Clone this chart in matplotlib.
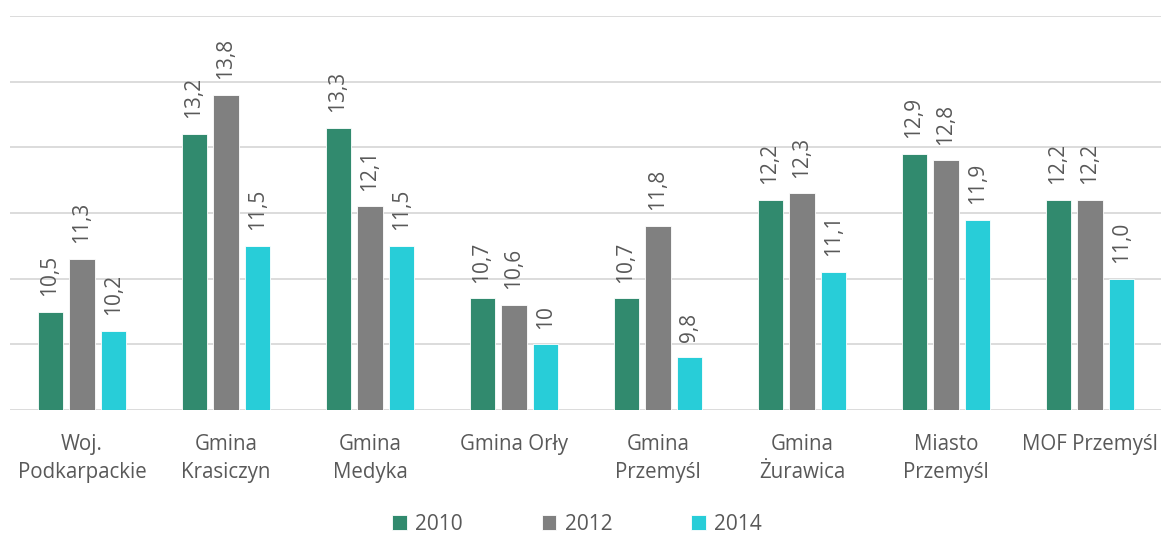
import matplotlib
matplotlib.use("Agg")
import matplotlib.pyplot as plt
import numpy as np

categories = ["Woj.\nPodkarpackie", "Gmina\nKrasiczyn", "Gmina\nMedyka", "Gmina Orły",
              "Gmina\nPrzemyśl", "Gmina\nŻurawica", "Miasto\nPrzemyśl", "MOF Przemyśl"]
years = ["2010", "2012", "2014"]
v2010 = [10.5, 13.2, 13.3, 10.7, 10.7, 12.2, 12.9, 12.2]
v2012 = [11.3, 13.8, 12.1, 10.6, 11.8, 12.3, 12.8, 12.2]
v2014 = [10.2, 11.5, 11.5, 10.0, 9.8, 11.1, 11.9, 11.0]
labels2010 = ["10,5", "13,2", "13,3", "10,7", "10,7", "12,2", "12,9", "12,2"]
labels2012 = ["11,3", "13,8", "12,1", "10,6", "11,8", "12,3", "12,8", "12,2"]
labels2014 = ["10,2", "11,5", "11,5", "10", "9,8", "11,1", "11,9", "11,0"]

colors = ["#318A6E", "#808080", "#28CDD8"]
plt.rcParams['font.family'] = ['Open Sans', 'DejaVu Sans']

fig = plt.figure(figsize=(11.61, 5.33), dpi=100)
ax = fig.add_axes([10/1161, 1-410/533, 1152/1161, 394/533])

x = np.arange(len(categories))
w = 0.174
step = 0.222
series = [v2010, v2012, v2014]
lbls = [labels2010, labels2012, labels2014]
for i, (vals, lab) in enumerate(zip(series, lbls)):
    xs = x + (i - 1) * step
    ax.bar(xs, np.array(vals) - 9, bottom=9, width=w, color=colors[i],
           edgecolor="white", linewidth=0.6, label=years[i], zorder=3)
    for xx, v, t in zip(xs, vals, lab):
        ax.text(xx, v + 0.24, t, rotation=90, ha="center", va="bottom",
                fontsize=15, color="#595959")

ax.set_ylim(9, 15)
ax.set_xlim(-0.5, 7.5)
ax.set_yticks(np.arange(9, 15.01, 1))
ax.yaxis.grid(True, color="#D9D9D9", linewidth=1.3, zorder=0)
ax.set_yticklabels([])
ax.tick_params(axis="y", length=0)
ax.set_xticks(x)
ax.set_xticklabels(categories, fontsize=14.8, color="#595959", linespacing=1.45)
ax.tick_params(axis="x", length=0, pad=17)
for s in ax.spines.values():
    s.set_visible(False)

leg = fig.legend(loc="lower center", bbox_to_anchor=(0.497, -0.038), ncol=3, frameon=False,
                 fontsize=15, handlelength=0.7, handleheight=0.7, handletextpad=0.4,
                 columnspacing=3.8, labelcolor="#595959")
fig.savefig("out.png", dpi=100)
